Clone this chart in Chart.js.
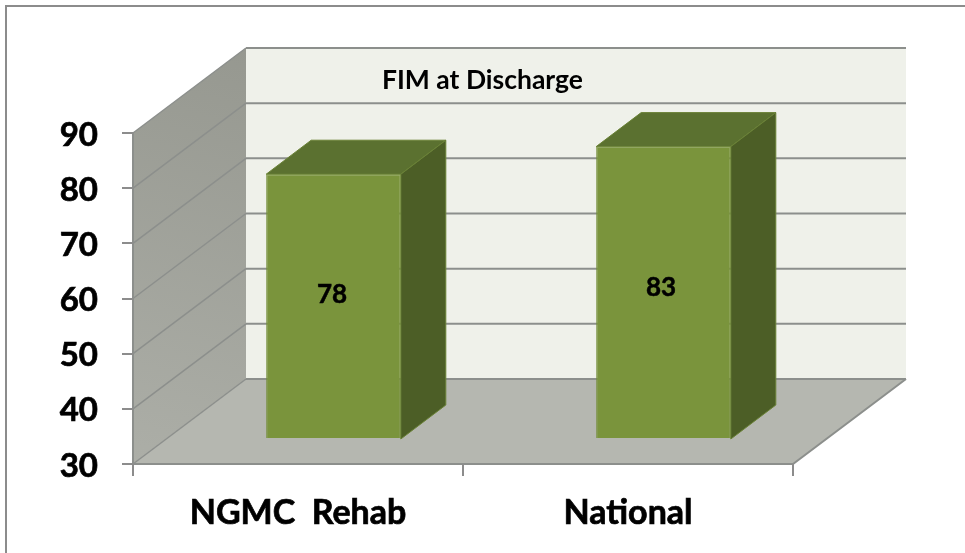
<!DOCTYPE html>
<html><head><meta charset="utf-8">
<script src="https://cdn.jsdelivr.net/npm/chart.js@4"></script>
<style>html,body{margin:0;padding:0;background:#fff}canvas{display:block}#w{width:965px;height:553px}</style>
</head><body><div id="w"><canvas id="c"></canvas></div>
<script>
const categories = ['NGMC  Rehab', 'National'];
const values = [78, 83];
const tickValues = [30, 40, 50, 60, 70, 80, 90];
const chartTitle = 'FIM at Discharge';

const DEPTH = {x: 113, y: -85};
const BAR_OFF = {x: 35.5, y: -25};
const BAR_D = {x: 45, y: -34};
const LABEL_NUDGE = [{x: -1.5, y: -12}, {x: -2.5, y: -5.5}];
const GRID = '#8c8f8c';

function poly(ctx, pts, fill, edge) {
  ctx.beginPath();
  pts.forEach((p, i) => i ? ctx.lineTo(p[0], p[1]) : ctx.moveTo(p[0], p[1]));
  ctx.closePath();
  ctx.fillStyle = fill;
  ctx.fill();
  if (edge) { ctx.strokeStyle = edge; ctx.lineWidth = 1; ctx.stroke(); }
}
const room = {
  id: 'room',
  beforeDraw(chart) {
    const {ctx, scales: {x, y}} = chart;
    const L = x.left, R = x.right, T = y.top, B = y.bottom;
    const dx = DEPTH.x, dy = DEPTH.y;
    ctx.save();
    ctx.strokeStyle = '#8c8c8c'; ctx.lineWidth = 2;
    ctx.beginPath(); ctx.moveTo(6, 553); ctx.lineTo(6, 6); ctx.lineTo(965, 6); ctx.stroke();
    poly(ctx, [[L+dx, T+dy], [R+dx, T+dy], [R+dx, B+dy], [L+dx, B+dy]], '#eff1ea');
    const g = ctx.createLinearGradient(L, B, L+dx, T+dy);
    g.addColorStop(0, '#acaea7'); g.addColorStop(1, '#969890');
    poly(ctx, [[L, T], [L+dx, T+dy], [L+dx, B+dy], [L, B]], g);
    poly(ctx, [[L, B], [R, B], [R+dx, B+dy], [L+dx, B+dy]], '#b5b7b0');
    ctx.strokeStyle = GRID;
    tickValues.forEach(v => {
      const p = y.getPixelForValue(v);
      ctx.lineWidth = 1.5;
      ctx.beginPath(); ctx.moveTo(L, p); ctx.lineTo(L+dx, p+dy); ctx.stroke();
      ctx.lineWidth = 2;
      ctx.beginPath(); ctx.moveTo(L+dx, p+dy); ctx.lineTo(R+dx, p+dy); ctx.stroke();
    });
    ctx.lineWidth = 2;
    ctx.beginPath();
    ctx.moveTo(L, T); ctx.lineTo(L, B); ctx.lineTo(R, B); ctx.lineTo(R+dx, B+dy);
    ctx.stroke();
    ctx.restore();
  },
  beforeDatasetsDraw(chart) {
    const {ctx, scales: {y}} = chart;
    const meta = chart.getDatasetMeta(0);
    ctx.save();
    ctx.translate(BAR_OFF.x, BAR_OFF.y);
    meta.data.forEach(b => {
      const l = b.x - b.width/2, r = b.x + b.width/2, t = b.y, bt = y.bottom;
      poly(ctx, [[l, t], [l+BAR_D.x, t+BAR_D.y], [r+BAR_D.x, t+BAR_D.y], [r, t]], '#5b7130', '#6a8236');
      poly(ctx, [[r, t], [r+BAR_D.x, t+BAR_D.y], [r+BAR_D.x, bt+BAR_D.y], [r, bt]], '#4c5e26', '#6a8236');
    });
  },
  afterDatasetsDraw(chart) {
    const {ctx, scales: {y}} = chart;
    ctx.restore();
    const meta = chart.getDatasetMeta(0);
    ctx.save();
    ctx.font = 'bold 26px Lato';
    ctx.fillStyle = '#000';
    ctx.strokeStyle = '#000'; ctx.lineWidth = 0.5;
    ctx.textAlign = 'center'; ctx.textBaseline = 'middle';
    meta.data.forEach((b, i) => {
      const tx = b.x + BAR_OFF.x + LABEL_NUDGE[i].x;
      const ty = (b.y + y.bottom)/2 + BAR_OFF.y + LABEL_NUDGE[i].y;
      ctx.fillText(String(values[i]), tx, ty);
      ctx.strokeText(String(values[i]), tx, ty);
    });
    ctx.restore();
  }
};

new Chart(document.getElementById('c'), {
  type: 'bar',
  data: {labels: categories, datasets: [{
    data: values, backgroundColor: '#7a943c', borderColor: '#728c38', borderWidth: 1,
    barPercentage: 0.408, categoryPercentage: 1, base: 30, yAxisID: 'y'
  }]},
  options: {
    responsive: true, maintainAspectRatio: false, animation: false,
    layout: {padding: 0},
    plugins: {
      legend: {display: false}, tooltip: {enabled: false},
      title: {display: true, text: chartTitle, color: '#000',
        font: {family: 'Lato', weight: 'bold', size: 26.5, lineHeight: 1.2},
        padding: {top: 65, bottom: 36.2}}
    },
    scales: {
      x: {
        afterFit(s) { s.height = 89; },
        grid: {drawOnChartArea: false, offset: true, color: '#8c8c8c', tickLength: 12, lineWidth: 2},
        border: {display: false},
        ticks: {color: '#000', font: {family: 'Lato', weight: 'bold', size: 34}, padding: 17, maxRotation: 0,
          textStrokeColor: '#000', textStrokeWidth: 0.7}
      },
      y: {
        min: 30, max: 90,
        afterFit(s) { s.width = 133; },
        afterBuildTicks(s) { s.ticks = tickValues.map(v => ({value: v})); },
        grid: {drawOnChartArea: false, color: '#8c8c8c', tickLength: 11, lineWidth: 2},
        border: {display: false},
        ticks: {color: '#000', font: {family: 'Lato', weight: 'bold', size: 33}, padding: 24, labelOffset: 2,
          textStrokeColor: '#000', textStrokeWidth: 0.7}
      },
      margin: {
        position: 'right', afterFit(s) { s.width = 172; },
        grid: {display: false}, border: {display: false}, ticks: {display: false}
      }
    }
  },
  plugins: [room]
});
</script></body></html>
